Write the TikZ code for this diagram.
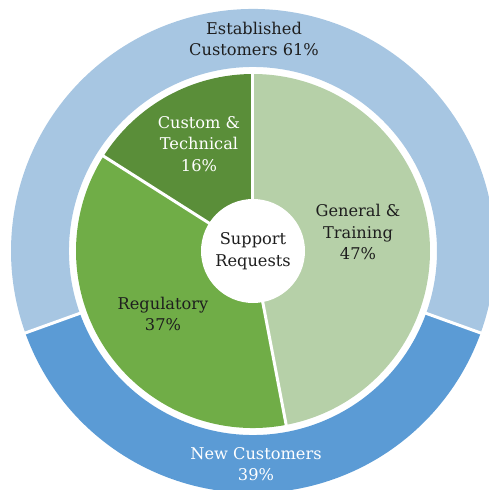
\documentclass[tikz,border=0pt]{standalone}
\usepackage{fontspec}
\setmainfont{DejaVu Serif}
\usetikzlibrary{calc}
\definecolor{estblue}{RGB}{167,198,226}
\definecolor{newblue}{RGB}{91,155,213}
\definecolor{customgreen}{RGB}{90,142,57}
\definecolor{reggreen}{RGB}{112,173,71}
\definecolor{gengreen}{RGB}{182,208,168}
\definecolor{darktext}{RGB}{30,30,30}
\tikzset{
  lbl/.style={align=center,font=\fontsize{16.2}{21.5}\selectfont,inner sep=0pt},
  sep/.style={draw=white,line width=3pt},
}
\begin{document}
\begin{tikzpicture}[x=1pt,y=1pt]
\useasboundingbox (-253,-239) rectangle (235,251);
% outer ring
\fill[estblue] (-19.8:242) arc (-19.8:199.8:242) -- (199.8:184) arc (199.8:-19.8:184) -- cycle;
\fill[newblue] (199.8:242) arc (199.8:340.2:242) -- (340.2:184) arc (340.2:199.8:184) -- cycle;
\draw[sep] (199.8:180) -- (199.8:246);
\draw[sep] (340.2:180) -- (340.2:246);
% pie
\fill[gengreen] (0,0) -- (90:177) arc (90:-79.2:177) -- cycle;
\fill[reggreen] (0,0) -- (-79.2:177) arc (-79.2:-212.4:177) -- cycle;
\fill[customgreen] (0,0) -- (147.6:177) arc (147.6:90:177) -- cycle;
\draw[sep] (0,0) -- (90:178);
\draw[sep] (0,0) -- (-79.2:178);
\draw[sep] (0,0) -- (147.6:178);
% centre
\node[circle,fill=white,minimum size=104pt,inner sep=0pt] (hub) at (0,0) {};
% labels
\node[lbl,text=darktext] (support) at (0,0) {Support\\Requests};
\node[lbl,text=darktext] (est) at (1,212) {Established\\Customers 61\%};
\node[lbl,text=white] (new) at (3,-213) {New Customers\\39\%};
\node[lbl,text=white] (custom) at (-54,107) {Custom \&\\Technical\\16\%};
\node[lbl,text=darktext] (general) at (105,19) {General \&\\Training\\47\%};
\node[lbl,text=darktext] (reg) at (-90,-63) {Regulatory\\37\%};
\end{tikzpicture}
\end{document}
